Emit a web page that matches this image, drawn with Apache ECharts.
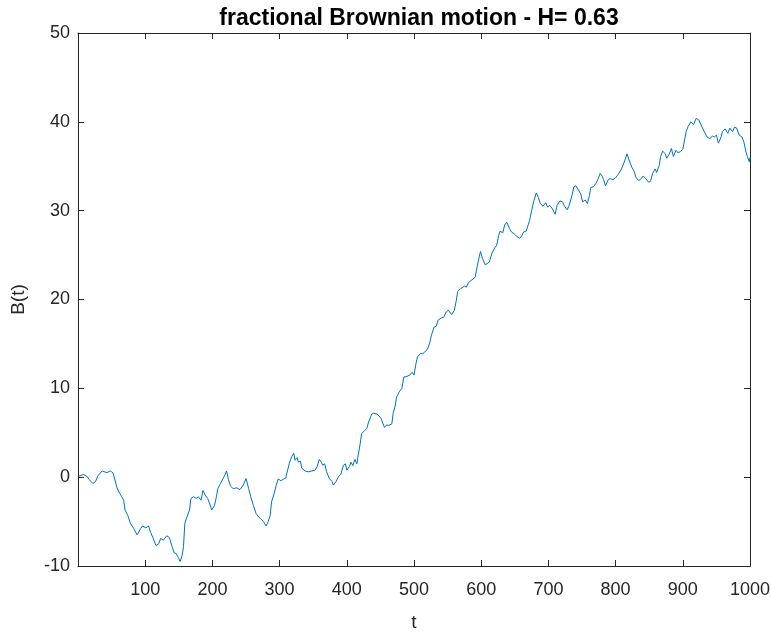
<!DOCTYPE html>
<html>
<head>
<meta charset="utf-8">
<script src="https://cdn.jsdelivr.net/npm/echarts@6/dist/echarts.min.js"></script>
<style>
html,body{margin:0;padding:0;background:#fff;}
#chart{width:771px;height:632px;}
</style>
</head>
<body>
<div id="chart"></div>
<script>
const titleText = 'fractional Brownian motion - H= 0.63';
const xName = 't';
const yName = 'B(t)';
const yTicks = [-10, 0, 10, 20, 30, 40, 50];
const xTicks = [100, 200, 300, 400, 500, 600, 700, 800, 900, 1000];

const tValues = [1,8,13,17,22,26,30,36,43,48,52,55,58,62,65,68,70,74,78,83,88,93,96,101,105,108,112,116,120,123,127,132,136,140,143,146,149,152,155,157,159,162,166,168,172,176,179,183,186,189,193,196,199,203,206,208,212,216,219,221,224,227,231,236,241,246,250,254,257,261,265,269,272,276,280,283,286,288,292,295,298,302,305,309,312,315,318,321,323,326,328,331,333,338,343,348,353,356,359,362,364,367,370,374,378,380,384,388,391,395,398,400,404,406,409,412,415,417,420,422,426,430,432,437,440,445,448,451,454,456,459,463,467,469,472,474,478,482,485,488,494,497,500,503,505,509,513,516,520,523,526,530,533,536,540,544,548,551,553,556,560,563,565,569,571,575,578,581,586,591,594,597,599,602,606,608,612,616,620,623,626,628,632,635,638,642,645,649,653,657,660,663,667,669,672,675,678,682,685,688,692,696,699,702,706,710,713,717,721,724,728,731,735,738,741,745,748,751,755,758,761,763,767,771,774,777,780,782,785,789,792,796,800,804,808,811,814,817,820,824,828,830,834,837,841,845,849,852,855,859,861,865,867,870,874,876,880,883,886,890,893,897,900,902,905,908,912,916,920,924,928,932,936,940,944,947,950,953,957,959,963,967,970,974,977,980,984,988,991,994,996,999,1000];

const bValues = [0.1,0.3,0.1,-0.3,-0.7,-0.5,0.2,0.7,0.5,0.7,0.5,-0.3,-1.2,-1.8,-2.2,-2.6,-3.7,-4.3,-5.2,-5.8,-6.5,-5.8,-5.5,-5.7,-5.5,-6.2,-6.9,-7.7,-7.5,-6.9,-7.1,-6.6,-6.8,-7.8,-8.5,-8.6,-9.0,-9.5,-8.8,-7.8,-5.2,-4.5,-3.7,-2.4,-2.2,-2.4,-2.2,-2.6,-1.5,-2.0,-2.4,-3.0,-3.7,-3.2,-2.2,-1.3,-0.7,-0.15,0.3,0.7,-0.3,-1.0,-1.3,-1.2,-1.4,-0.9,-0.15,-1.3,-2.2,-3.2,-4.1,-4.5,-4.7,-5.0,-5.5,-5.0,-4.3,-2.8,-1.8,-0.9,-0.2,-0.4,-0.25,-0.1,0.8,1.7,2.3,2.7,1.9,2.2,1.7,1.8,1.0,0.7,0.6,0.7,0.8,1.2,2.0,1.7,1.35,1.5,0.6,-0.15,-0.5,-0.9,-0.5,0.1,0.3,1.35,1.5,0.8,1.2,1.7,1.3,2.0,1.5,2.5,3.8,4.9,5.2,5.5,6.1,7.1,7.2,7.1,6.9,6.6,6.0,5.6,5.85,5.85,6.0,7.2,8.0,9.0,9.6,10.0,11.3,11.3,11.5,11.8,11.5,12.8,13.5,13.9,13.9,14.1,14.4,15.0,16.0,16.9,17.0,17.7,17.9,18.0,18.6,18.8,18.9,18.3,18.8,19.9,20.9,21.2,21.0,21.5,21.4,21.9,22.2,22.5,23.7,24.8,25.4,24.6,23.9,24.0,24.2,25.2,25.8,26.1,27.2,27.7,27.5,28.4,28.7,28.0,27.6,27.4,27.1,26.9,27.1,27.6,27.7,27.9,28.9,30.0,31.0,32.0,31.5,30.8,30.5,30.9,30.4,30.6,30.2,29.6,30.6,31.1,31.0,30.5,30.1,30.6,31.7,32.7,32.8,32.3,31.9,31.0,31.2,30.8,31.7,32.6,32.7,33.1,33.6,34.2,33.9,33.5,32.8,33.5,33.6,33.5,33.7,34.1,34.6,35.1,35.7,36.4,35.7,34.9,34.4,33.8,33.4,33.5,33.9,33.6,33.2,33.3,34.2,34.7,34.3,35.1,36.1,36.7,36.4,35.9,36.4,37.0,36.1,36.8,36.5,36.7,36.9,37.7,38.9,39.5,40.0,39.7,40.4,40.2,39.5,38.9,38.3,38.1,38.4,38.3,38.5,37.6,38.3,38.9,39.2,38.7,39.3,38.9,39.4,39.3,38.5,38.3,37.7,36.6,36.1,35.5,36.0];

const seriesData = tValues.map((t, i) => [t, bValues[i]]);
const axisColor = '#262626';
const fontFam = '"Liberation Sans", Arial, Helvetica, sans-serif';

const chart = echarts.init(document.getElementById('chart'), null, {renderer: 'canvas'});
const baseX = {
  type: 'value', min: 0, max: 1000, interval: 100,
  splitLine: {show: false},
  axisLine: {show: true, onZero: false, lineStyle: {color: axisColor, width: 1}},
  axisTick: {show: true, inside: true, length: 6, lineStyle: {color: axisColor}}
};
const baseY = {
  type: 'value', min: -10, max: 50, interval: 10,
  splitLine: {show: false},
  axisLine: {show: true, onZero: false, lineStyle: {color: axisColor, width: 1}},
  axisTick: {show: true, inside: true, length: 6, lineStyle: {color: axisColor}}
};
chart.setOption({
  animation: false,
  backgroundColor: '#ffffff',
  title: {
    text: titleText, left: 414, top: 2, textAlign: 'center',
    textStyle: {fontFamily: fontFam, fontSize: 23, fontWeight: 'bold', color: '#000'}
  },
  grid: {left: 78, right: 21, top: 33, bottom: 66, containLabel: false, outerBoundsMode: 'none'},
  xAxis: [
    Object.assign({}, baseX, {
      position: 'bottom',
      name: xName, nameLocation: 'middle', nameGap: 47,
      nameTextStyle: {fontFamily: fontFam, fontSize: 19, color: axisColor},
      axisLabel: {
        show: true, margin: 15, fontFamily: fontFam, fontSize: 18, color: axisColor,
        formatter: v => (xTicks.indexOf(v) >= 0 ? String(v) : '')
      }
    }),
    Object.assign({}, baseX, {position: 'top', axisLabel: {show: false}})
  ],
  yAxis: [
    Object.assign({}, baseY, {
      position: 'left',
      name: yName, nameLocation: 'middle', nameGap: 50, nameRotate: 90,
      nameTextStyle: {fontFamily: fontFam, fontSize: 19, color: axisColor},
      axisLabel: {
        show: true, margin: 8, fontFamily: fontFam, fontSize: 18, color: axisColor,
        formatter: v => (yTicks.indexOf(v) >= 0 ? String(v) : '')
      }
    }),
    Object.assign({}, baseY, {position: 'right', axisLabel: {show: false}})
  ],
  series: [{
    type: 'line',
    data: seriesData,
    showSymbol: false,
    symbol: 'none',
    lineStyle: {color: '#0072BD', width: 1},
    xAxisIndex: 0, yAxisIndex: 0
  }]
});
</script>
</body>
</html>
